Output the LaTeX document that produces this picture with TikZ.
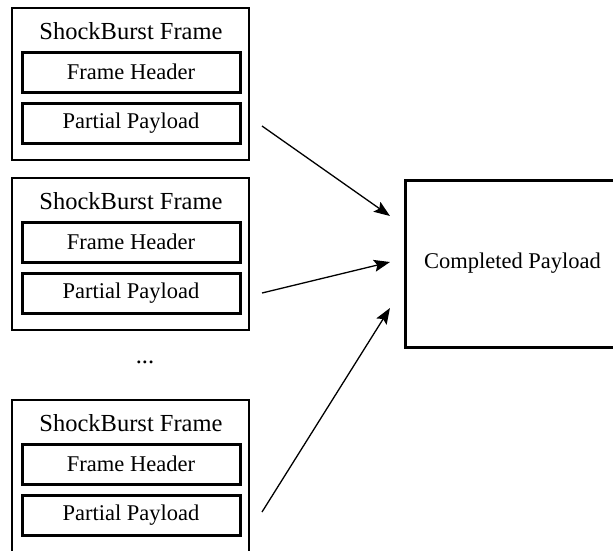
\documentclass[tikz,border=0pt]{standalone}
\usepackage{fontspec}
\setmainfont{Liberation Serif}
\usetikzlibrary{arrows.meta}
\begin{document}
\begin{tikzpicture}[x=1pt,y=-1pt,
  frame/.style={draw,line width=2.6pt,minimum width=237pt,minimum height=152pt,inner sep=0pt},
  field/.style={draw,line width=3pt,minimum width=218pt,minimum height=40pt,inner sep=0pt,font=\fontsize{22.5}{26}\selectfont},
  title/.style={inner sep=0pt,font=\fontsize{24.5}{28}\selectfont},
  result/.style={draw,line width=3pt,minimum width=215pt,minimum height=167pt,inner sep=0pt,font=\fontsize{22.5}{26}\selectfont},
  flow/.style={line width=1.3pt,-{Stealth[length=16pt,width=12pt,inset=3pt]}}]
\useasboundingbox (0,0) rectangle (613,550);
% three frames, each with a header and a partial payload
\foreach \i/\dy in {1/0,2/170,3/392}{
  \node[frame] (f\i) at (130.5,84+\dy) {};
  \node[title] (t\i) at (131,31+\dy) {ShockBurst Frame};
  \node[field] (h\i) at (131,72+\dy) {Frame Header};
  \node[field] (p\i) at (131,123+\dy) {Partial Payload};
}
\node[title] (dots) at (145,362) {...};
% reassembled payload
\node[result] (cp) at (512.5,263.5) {Completed Payload};
% arrow end points
\coordinate (s1) at (262,126);
\coordinate (s2) at (262,293);
\coordinate (s3) at (262,512);
\coordinate (e1) at (390,216);
\coordinate (e2) at (390,262);
\coordinate (e3) at (390,308);
\draw[flow] (s1) -- (e1);
\draw[flow] (s2) -- (e2);
\draw[flow] (s3) -- (e3);
\end{tikzpicture}
\end{document}
